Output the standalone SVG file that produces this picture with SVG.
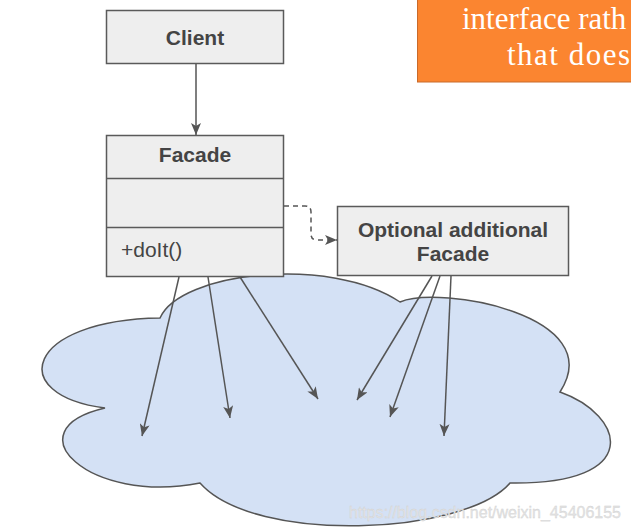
<svg xmlns="http://www.w3.org/2000/svg" width="631" height="532" viewBox="0 0 631 532">
<style>
.box{fill:#eeeeee;stroke:#5a5a5a;stroke-width:1.5}
.lbl{font-family:"Liberation Sans",Arial,sans-serif;font-size:21px;fill:#444444}
.b{font-weight:bold}
.edge{fill:none;stroke:#555555;stroke-width:1.5}
.note{font-family:"Liberation Serif","Times New Roman",serif;font-size:31px;fill:#ffffff}
</style>
<defs>
<marker id="arr" viewBox="0 0 12 10" refX="12" refY="5" markerWidth="12" markerHeight="10" orient="auto" markerUnits="userSpaceOnUse">
<path d="M0,0 L12,5 L0,10 L3,5 Z" fill="#555555"/>
</marker>
</defs>
<rect width="631" height="532" fill="#ffffff"/>
<g id="note">
<rect x="417.5" y="-2" width="220" height="84" fill="#fb8530" stroke="#c96a2a" stroke-width="1"/>
<text class="note" x="462" y="29">interface rath</text>
<text class="note" x="507" y="65" letter-spacing="1.5">that does</text>
</g>
<g id="subsystem">
<path d="M160,318 C180,272 330,255 400,302 C440,285 610,315 560,392 C625,415 645,485 510,483 C465,535 255,545 200,483 C90,505 10,430 105,408 C5,395 25,320 160,318 Z" fill="#d4e1f5" stroke="#555555" stroke-width="1.5"/>
</g>
<g id="client">
<rect class="box" x="106.5" y="10.5" width="177" height="53"/>
<text class="lbl b" x="195" y="45" text-anchor="middle">Client</text>
</g>
<g id="facade">
<rect class="box" x="106.5" y="135.5" width="177" height="141"/>
<line x1="106.5" y1="178.5" x2="283.5" y2="178.5" stroke="#5a5a5a" stroke-width="1.5"/>
<line x1="106.5" y1="227.5" x2="283.5" y2="227.5" stroke="#5a5a5a" stroke-width="1.5"/>
<text class="lbl b" x="195" y="162" text-anchor="middle">Facade</text>
<text class="lbl" x="121" y="257">+doIt()</text>
</g>
<g id="optional">
<rect class="box" x="337.5" y="206.5" width="231" height="69"/>
<text class="lbl b" x="453" y="237" text-anchor="middle">Optional additional</text>
<text class="lbl b" x="453" y="261" text-anchor="middle">Facade</text>
</g>
<g id="connectors">
<line class="edge" x1="196" y1="64" x2="196" y2="135" marker-end="url(#arr)"/>
<path class="edge" d="M284,206 L305,206 Q311,206 311,212 L311,234 Q311,240 317,240 L337,240" stroke-dasharray="5,4" marker-end="url(#arr)"/>
<line class="edge" x1="179" y1="277" x2="142" y2="436" marker-end="url(#arr)"/>
<line class="edge" x1="208" y1="277" x2="230" y2="418" marker-end="url(#arr)"/>
<line class="edge" x1="240" y1="277" x2="318" y2="399" marker-end="url(#arr)"/>
<line class="edge" x1="432" y1="276" x2="357" y2="400" marker-end="url(#arr)"/>
<line class="edge" x1="440" y1="276" x2="390" y2="417" marker-end="url(#arr)"/>
<line class="edge" x1="451" y1="276" x2="444" y2="436" marker-end="url(#arr)"/>
</g>
<text x="349" y="518" font-family="'Liberation Sans',Arial,sans-serif" font-size="16" fill="#e4e4e4" stroke="#cfcfcf" stroke-width="0.3" textLength="272">https://blog.csdn.net/weixin_45406155</text>
</svg>
